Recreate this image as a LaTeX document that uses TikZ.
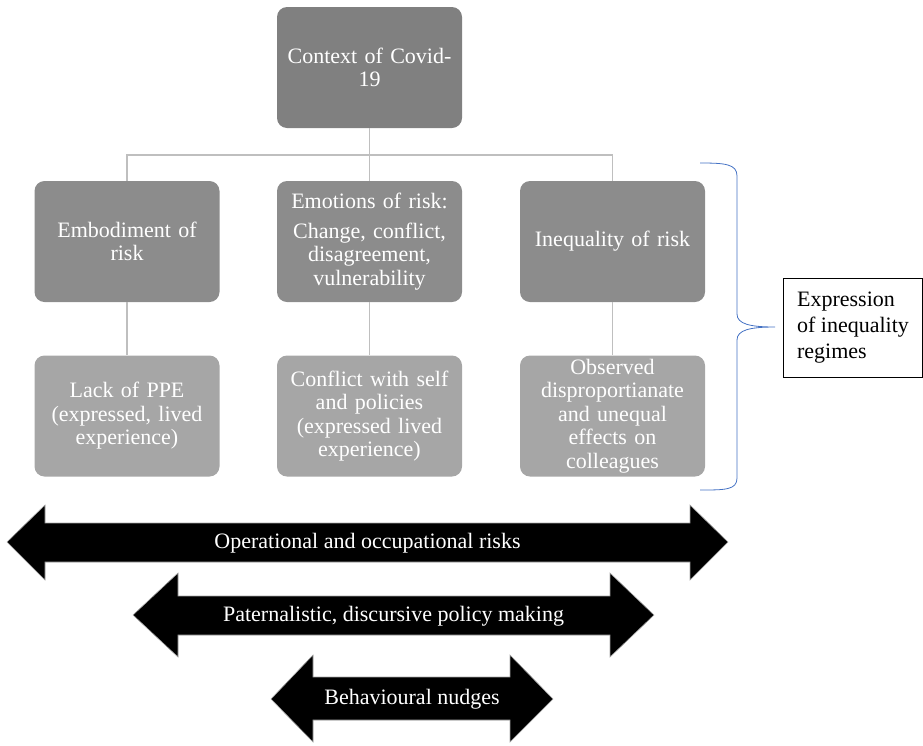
\documentclass[tikz,border=0pt]{standalone}
\usepackage{fontspec}
\setmainfont{Liberation Serif}
\definecolor{topgray}{HTML}{808080}
\definecolor{midgray}{HTML}{8C8C8C}
\definecolor{lowgray}{HTML}{A6A6A6}
\definecolor{linegray}{HTML}{BFBFBF}
\definecolor{braceblue}{HTML}{4472C4}
\tikzset{
  box/.style={rounded corners=10pt, minimum width=185pt, minimum height=121pt,
    inner sep=0pt, text width=180pt, align=center, text=white,
    font=\fontsize{22}{23.5}\selectfont},
  topbox/.style={box, fill=topgray},
  midbox/.style={box, fill=midgray},
  lowbox/.style={box, fill=lowgray},
  conn/.style={draw=linegray, line width=1.3pt},
  bigarrow/.style={fill=black, draw=gray!70, line width=0.6pt},
  arrowtext/.style={text=white, font=\fontsize{22}{24}\selectfont, inner sep=0pt},
}
\begin{document}
\begin{tikzpicture}[x=1pt, y=-1pt]
\useasboundingbox (0,0) rectangle (923,745);
% boxes
\node[topbox] (top) at (369.5,67.5) {Context of Covid-\\19};
\node[midbox] (b1) at (127,241.5) {Embodiment of\\risk};
\node[midbox] (b2) at (369.5,241.5) {Emotions of risk:\\[6pt]Change, conflict,\\disagreement,\\vulnerability};
\node[midbox] (b3) at (612.5,241.5) {Inequality of risk};
\node[lowbox] (c1) at (127,416) {Lack of PPE\\(expressed, lived\\experience)};
\node[lowbox] (c2) at (369.5,416) {Conflict with self\\and policies\\(expressed lived\\experience)};
\node[lowbox] (c3) at (612.5,416) {Observed\\disproportianate\\and unequal\\effects on\\colleagues};
% connectors
\coordinate (bus) at (369.5,155);
\draw[conn] (top.south) -- (b2.north);
\draw[conn] (b1.north) |- (bus) -| (b3.north);
\draw[conn] (b1.south) -- (c1.north);
\draw[conn] (b2.south) -- (c2.north);
\draw[conn] (b3.south) -- (c3.north);
% brace
\draw[braceblue, line width=0.8pt] (700,163) .. controls (725,163) and (737,164) .. (737,176)
  -- (737,314) .. controls (737,324) and (750,327) .. (775,327)
  .. controls (750,327) and (737,330) .. (737,340)
  -- (737,478) .. controls (737,490) and (725,490) .. (700,490);
\node[draw=black, line width=0.6pt, minimum width=139pt, minimum height=99pt, inner sep=0pt,
  align=left, font=\fontsize{22}{26}\selectfont] (expr) at (853,327.5)
  {Expression\\of inequality\\regimes};
% big arrows
\draw[bigarrow] (7,542) -- (45,505) -- (45,523) -- (690,523) -- (690,505) -- (728,542)
  -- (690,580) -- (690,562) -- (45,562) -- (45,580) -- cycle;
\node[arrowtext] (a1) at (367.5,543) {Operational and occupational risks};
\draw[bigarrow] (133,615) -- (178,573) -- (178,596) -- (610,596) -- (610,573) -- (654,615)
  -- (610,657) -- (610,635) -- (178,635) -- (178,657) -- cycle;
\node[arrowtext] (a2) at (393.5,616) {Paternalistic, discursive policy making};
\draw[bigarrow] (271,699) -- (313,655) -- (313,677) -- (510,677) -- (510,655) -- (553,699)
  -- (510,742) -- (510,720) -- (313,720) -- (313,742) -- cycle;
\node[arrowtext] (a3) at (412,699) {Behavioural nudges};
\end{tikzpicture}
\end{document}
